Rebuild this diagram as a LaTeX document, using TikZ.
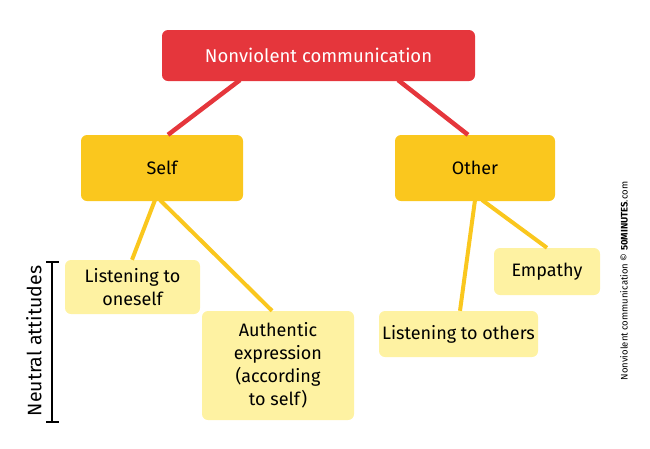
\documentclass[tikz,border=0pt]{standalone}
\usepackage{fontspec}
\setmainfont{Fira Sans}
\definecolor{nvred}{HTML}{E5363C}
\definecolor{nvgold}{HTML}{FAC71E}
\definecolor{nvlight}{HTML}{FEF2A2}
\begin{document}
\begin{tikzpicture}[x=1pt,y=-1pt,
  box/.style={rounded corners=6pt,inner sep=0pt,align=center,font=\fontsize{18}{23}\selectfont},
  topbox/.style={box,fill=nvred,text=white,font=\fontsize{18.5}{22}\selectfont},
  midbox/.style={box,fill=nvgold,text=black,font=\fontsize{18}{22}\selectfont},
  leafbox/.style={box,fill=nvlight,text=black},
  redline/.style={draw=nvred,line width=4.5pt},
  goldline/.style={draw=nvgold,line width=4pt}]
\useasboundingbox (0,0) rectangle (650,448);
\coordinate (r1) at (240,80);
\coordinate (r2) at (398,80);
\coordinate (s1) at (155,200);
\coordinate (s2) at (160,200);
\coordinate (o1) at (475,200);
\coordinate (o2) at (482,200);
\node[topbox,minimum width=313pt,minimum height=51pt] (nvc) at (318.5,55.5) {Nonviolent communication};
\node[midbox,minimum width=162pt,minimum height=66pt] (self) at (162,168) {Self};
\node[midbox,minimum width=160pt,minimum height=66pt] (other) at (475,168) {Other};
\draw[redline] (r1) -- (self.north -| 168,0);
\draw[redline] (r2) -- (other.north -| 468,0);
\node[leafbox,minimum width=135pt,minimum height=54pt] (lone) at (132.5,287) {Listening to\\oneself};
\node[leafbox,minimum width=152pt,minimum height=109pt] (auth) at (278,365.5) {Authentic\\expression\\(according\\to self)};
\node[leafbox,minimum width=159pt,minimum height=46pt] (loth) at (458.5,334) {Listening to others};
\node[leafbox,minimum width=106pt,minimum height=47pt] (emp) at (547,271.5) {Empathy};
\draw[goldline] (s1) -- (lone.north -| 132,0);
\draw[goldline] (s2) -- (auth.north -| 272,0);
\draw[goldline] (o1) -- (loth.north -| 460,0);
\draw[goldline] (o2) -- (emp.north -| 547,0);
% bracket
\coordinate (bt) at (52,262);
\coordinate (bb) at (52,422);
\draw[line width=1.4pt] (bt) -- (bb);
\draw[line width=1.4pt] ([xshift=-6pt]bt) -- ([xshift=7pt]bt);
\draw[line width=1.4pt] ([xshift=-6pt]bb) -- ([xshift=7pt]bb);
\node[rotate=90,font=\fontsize{19.5}{22}\selectfont] (neu) at (34,341) {Neutral attitudes};
\node[rotate=90,font=\fontsize{9.5}{11}\selectfont] (credit) at (624,281) {Nonviolent communication © \textbf{50MINUTES}.com};
\end{tikzpicture}
\end{document}
